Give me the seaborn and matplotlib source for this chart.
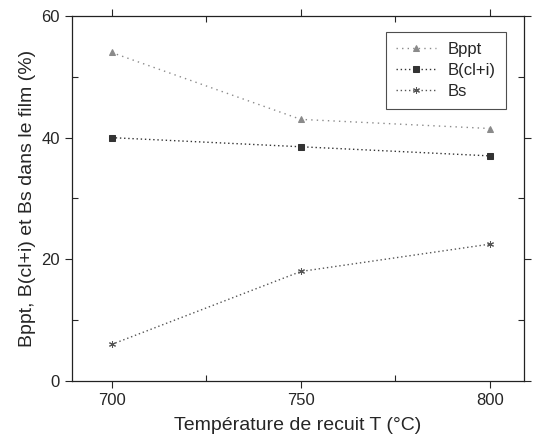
import pandas as pd
import numpy as np
import matplotlib
matplotlib.use("Agg")
import matplotlib.pyplot as plt
import seaborn as sns
from matplotlib.ticker import MultipleLocator

# data
temperature = [700, 750, 800]
bppt = [54, 43, 41.5]
bcli = [40, 38.5, 37]
bs = [6, 18, 22.5]

sns.set_style("ticks")
plt.rcParams['font.family'] = ['Liberation Sans', 'DejaVu Sans']

fig = plt.figure(figsize=(5.36, 4.44), dpi=100)
ax = fig.add_axes([0.134, 0.142, 0.844, 0.822])

# one call per series so markers can differ in kind
series = [("Bppt", bppt, "^", "#8a8a8a", (1, 3)),
          ("B(cl+i)", bcli, "s", "#333333", (1, 2)),
          ("Bs", bs, (6, 2, 0), "#555555", (1, 2))]
for name, vals, mk, col, dsh in series:
    sns.lineplot(x=temperature, y=vals, marker=mk, color=col, label=name,
                 markersize=5, linewidth=1.0,
                 markeredgecolor=col, ax=ax)
    ax.lines[-1].set_dashes(dsh)

ax.set_xlim(689.5, 809)
ax.set_ylim(0, 60)
ax.xaxis.set_major_locator(MultipleLocator(50))
ax.xaxis.set_minor_locator(MultipleLocator(25))
ax.yaxis.set_major_locator(MultipleLocator(20))
ax.yaxis.set_minor_locator(MultipleLocator(10))
ax.tick_params(which="major", direction="out", length=5, width=0.8,
               labelsize=12, top=True, right=True)
ax.tick_params(which="minor", direction="in", length=4, width=0.8,
               top=True, right=True)
for s in ax.spines.values():
    s.set_linewidth(0.9)
    s.set_color("#222222")

ax.set_xlabel("Température de recuit T (°C)", fontsize=14, labelpad=7)
ax.set_ylabel("Bppt, B(cl+i) et Bs dans le film (%)", fontsize=14, labelpad=4)

leg = ax.legend(title=None, loc="upper right", bbox_to_anchor=(0.96, 0.956),
                borderaxespad=0, fontsize=12, frameon=True, fancybox=False,
                edgecolor="#222222", handlelength=2.4, borderpad=0.6,
                labelspacing=0.35, handletextpad=0.7)
leg.get_frame().set_linewidth(0.8)

fig.savefig("out.png", dpi=100)
